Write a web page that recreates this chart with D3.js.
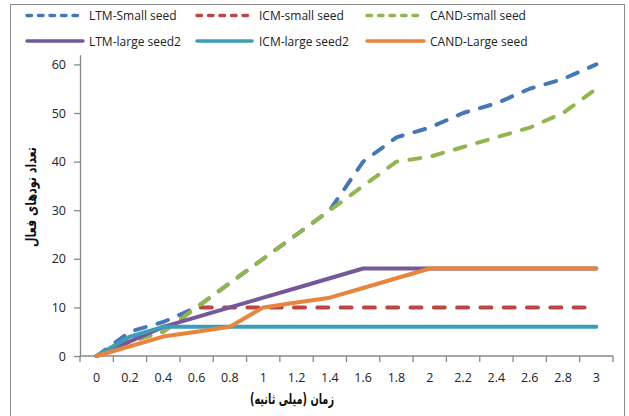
<!DOCTYPE html>
<html>
<head>
<meta charset="utf-8">
<script src="https://cdn.jsdelivr.net/npm/d3@7"></script>
<style>
  html, body { margin: 0; padding: 0; background: #fff; }
  svg { display: block; }
  .lbl { font-family: "Open Sans", "Noto Sans", sans-serif; font-size: 12px; fill: #222; }
  .tick-lbl { font-family: "Open Sans", "Noto Sans", sans-serif; font-size: 12.5px; fill: #222; }
  .fa { font-family: "DejaVu Sans", sans-serif; font-weight: bold; font-size: 15px; fill: #111; }
</style>
</head>
<body>
<svg id="chart" width="629" height="416"></svg>
<script>
// Time categories (milliseconds)
const categories = ["0","0.2","0.4","0.6","0.8","1","1.2","1.4","1.6","1.8","2","2.2","2.4","2.6","2.8","3"];

// Active node counts per model
const ltmSmall   = [0, 5, 7, 10, 15, 20, 25, 30, 40, 45, 47, 50, 52, 55, 57, 60];
const icmSmall   = [0, 3, 5, 10, 10, 10, 10, 10, 10, 10, 10, 10, 10, 10, 10, 10];
const candSmall  = [0, 3, 5, 10, 15, 20, 25, 30, 35, 40, 41, 43, 45, 47, 50, 55];
const ltmLarge   = [0, 3, 6, 8, 10, 12, 14, 16, 18, 18, 18, 18, 18, 18, 18, 18];
const icmLarge   = [0, 4, 6, 6, 6, 6, 6, 6, 6, 6, 6, 6, 6, 6, 6, 6];
const candLarge  = [0, 2, 4, 5, 6, 10, 11, 12, 14, 16, 18, 18, 18, 18, 18, 18];

const seriesNames = ["LTM-Small seed", "ICM-small seed", "CAND-small seed",
                     "LTM-large seed2", "ICM-large seed2", "CAND-Large seed"];
const yTicks = [0, 10, 20, 30, 40, 50, 60];
const xTitle = "زمان (میلی ثانیه)";
const yTitle = "تعداد نودهای فعال";

const series = [
  { name: seriesNames[0], values: ltmSmall,  color: "#4677b6", dashed: true },
  { name: seriesNames[1], values: icmSmall,  color: "#bb4744", dashed: true },
  { name: seriesNames[2], values: candSmall, color: "#93b550", dashed: true },
  { name: seriesNames[3], values: ltmLarge,  color: "#74589a", dashed: false },
  { name: seriesNames[4], values: icmLarge,  color: "#3e9db6", dashed: false },
  { name: seriesNames[5], values: candLarge, color: "#e8843d", dashed: false }
];

const svg = d3.select("#chart");

// Outer frame
svg.append("rect")
  .attr("x", 10.5).attr("y", 4.5).attr("width", 614).attr("height", 430)
  .attr("fill", "none").attr("stroke", "#8c8c8c").attr("stroke-width", 1);

const plot = { left: 80, right: 613, top: 54.7, bottom: 356 };

const x = d3.scaleBand().domain(categories).range([plot.left, plot.right]).padding(0);
const y = d3.scaleLinear().domain([0, 62]).range([plot.bottom, plot.top]);
const cx = c => x(c) + x.bandwidth() / 2;

const axisColor = "#888";

// Y axis
const yAxis = svg.append("g").attr("transform", `translate(${plot.left},0)`)
  .call(d3.axisLeft(y).tickValues(yTicks).tickSize(6).tickSizeOuter(0).tickPadding(8));
yAxis.attr("font-size", null).attr("font-family", null);
yAxis.select(".domain").attr("stroke", axisColor).attr("stroke-width", 1.3);
yAxis.selectAll(".tick line").attr("stroke", axisColor).attr("stroke-width", 1.3);
yAxis.selectAll(".tick text").attr("class", "tick-lbl").attr("fill", null);

// X axis: ticks between categories
const xAxis = svg.append("g").attr("transform", `translate(0,${plot.bottom})`);
xAxis.append("line")
  .attr("x1", plot.left).attr("x2", plot.right)
  .attr("stroke", axisColor).attr("stroke-width", 1.3);
const edges = categories.map(c => x(c)).concat([x.range()[1]]);
xAxis.selectAll("line.tk").data(edges).join("line").attr("class", "tk")
  .attr("x1", d => d).attr("x2", d => d).attr("y1", 0).attr("y2", 6)
  .attr("stroke", axisColor).attr("stroke-width", 1.3);
xAxis.selectAll("text").data(categories).join("text")
  .attr("class", "tick-lbl")
  .attr("x", d => cx(d)).attr("y", 26)
  .attr("text-anchor", "middle")
  .text(d => d);

// Axis titles
svg.append("text").attr("class", "fa")
  .attr("x", 292).attr("y", 404)
  .attr("text-anchor", "middle").attr("direction", "rtl")
  .attr("textLength", 84).attr("lengthAdjust", "spacingAndGlyphs")
  .text(xTitle);
svg.append("text").attr("class", "fa")
  .attr("transform", "translate(36,197) rotate(-90)")
  .attr("text-anchor", "middle").attr("direction", "rtl")
  .attr("textLength", 100).attr("lengthAdjust", "spacingAndGlyphs")
  .text(yTitle);

// Lines
const line = d3.line().x((d, i) => cx(categories[i])).y(d => y(d));
svg.append("g").selectAll("path").data(series).join("path")
  .attr("d", s => line(s.values))
  .attr("fill", "none")
  .attr("stroke", s => s.color)
  .attr("stroke-width", 4)
  .attr("stroke-linecap", "round")
  .attr("stroke-linejoin", "round")
  .attr("stroke-dasharray", s => s.dashed ? "11 12.3" : null);

// Legend: two rows of three
const legendCols = [{ x0: 27, x1: 83, tx: 89 }, { x0: 197, x1: 252, tx: 259 }, { x0: 367, x1: 424, tx: 430 }];
const legendRows = [15.5, 41];
const leg = svg.append("g").selectAll("g").data(series).join("g")
  .attr("transform", (s, i) => `translate(0,${legendRows[Math.floor(i / 3)]})`);
leg.append("line")
  .attr("x1", (s, i) => legendCols[i % 3].x0).attr("x2", (s, i) => legendCols[i % 3].x1)
  .attr("stroke", s => s.color).attr("stroke-width", 3.5)
  .attr("stroke-linecap", "round")
  .attr("stroke-dasharray", s => s.dashed ? "4.5 7" : null);
leg.append("text").attr("class", "lbl")
  .attr("x", (s, i) => legendCols[i % 3].tx).attr("y", 4.5)
  .text(s => s.name);
</script>
</body>
</html>
